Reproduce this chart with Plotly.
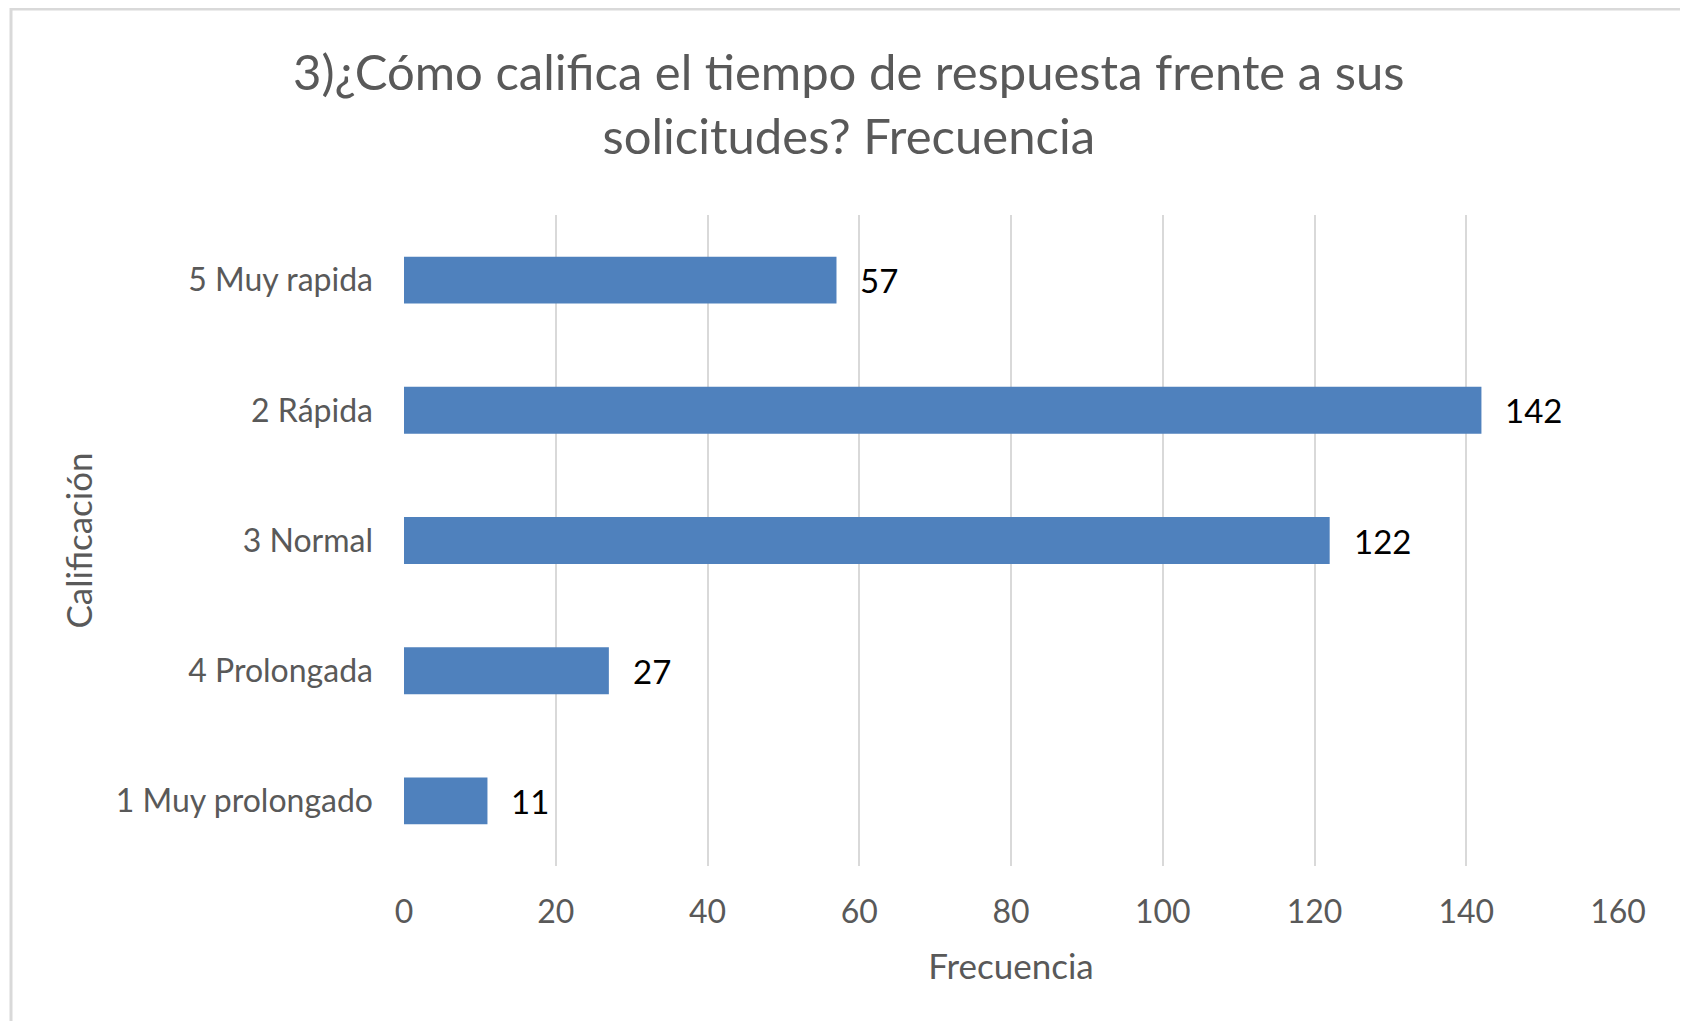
import plotly.graph_objects as go

categories = ["1 Muy prolongado", "4 Prolongada", "3 Normal", "2 Rápida", "5 Muy rapida"]
values = [11, 27, 122, 142, 57]
x_ticks = [0, 20, 40, 60, 80, 100, 120, 140, 160]

title_text = "3)¿Cómo califica el tiempo de respuesta frente a sus<br>solicitudes? Frecuencia"
x_title = "Frecuencia"
y_title = "Calificación"

OFF = 8  # page body margin
W, H = 1688 - 2 * OFF, 1029 - 2 * OFF
L, R, T, B = 404 - OFF, 70 - OFF, 215 - OFF, 163 - OFF
pw, ph = W - L - R, H - T - B

FONT = "Lato"
GRAY = "#595959"

fig = go.Figure()
fig.add_trace(go.Bar(
    x=values, y=categories, orientation="h",
    marker=dict(color="#4F81BD", line=dict(width=0)),
    width=0.36,
    hoverinfo="x+y",
))

for v, c in zip(values, categories):
    fig.add_annotation(x=v, y=c, text=str(v), showarrow=False,
                       xanchor="left", yanchor="middle", xshift=22, yshift=0,
                       font=dict(family=FONT, size=33, color="#000000"))

# page pixel -> paper coords
def px_x(p):
    return (p - OFF - L) / pw
def px_y(p):
    return 1 - (p - OFF - T) / ph

fig.add_shape(type="rect", xref="paper", yref="paper",
              x0=px_x(11), x1=px_x(1683), y0=px_y(1040), y1=px_y(9),
              line=dict(color="#D9D9D9", width=3), fillcolor="rgba(0,0,0,0)", layer="below")

fig.add_annotation(xref="paper", yref="paper", x=px_x(848), y=px_y(103),
                   text=title_text, showarrow=False, xanchor="center", yanchor="middle",
                   font=dict(family=FONT, size=49, color=GRAY))

fig.update_layout(
    width=W, height=H,
    margin=dict(l=L, r=R, t=T, b=B, pad=0),
    paper_bgcolor="white", plot_bgcolor="white",
    showlegend=False,
    font=dict(family=FONT, color=GRAY),
    xaxis=dict(
        range=[0, 160], tickvals=x_ticks, ticktext=[str(t) for t in x_ticks],
        showgrid=True, gridcolor="#D9D9D9", gridwidth=2,
        zeroline=False, showline=False, ticks="",
        tickfont=dict(family=FONT, size=32, color=GRAY),
        ticklabelstandoff=24,
        title=dict(text=x_title, font=dict(family=FONT, size=35, color=GRAY), standoff=25),
        fixedrange=True,
    ),
    yaxis=dict(
        categoryorder="array", categoryarray=categories,
        range=[-0.5, 4.5],
        showgrid=False, zeroline=False, showline=False, ticks="",
        tickfont=dict(family=FONT, size=32, color=GRAY),
        ticklabelstandoff=30,
        title=dict(text=y_title, font=dict(family=FONT, size=35, color=GRAY), standoff=12),
        fixedrange=True,
    ),
)

fig.write_html("out.html")
